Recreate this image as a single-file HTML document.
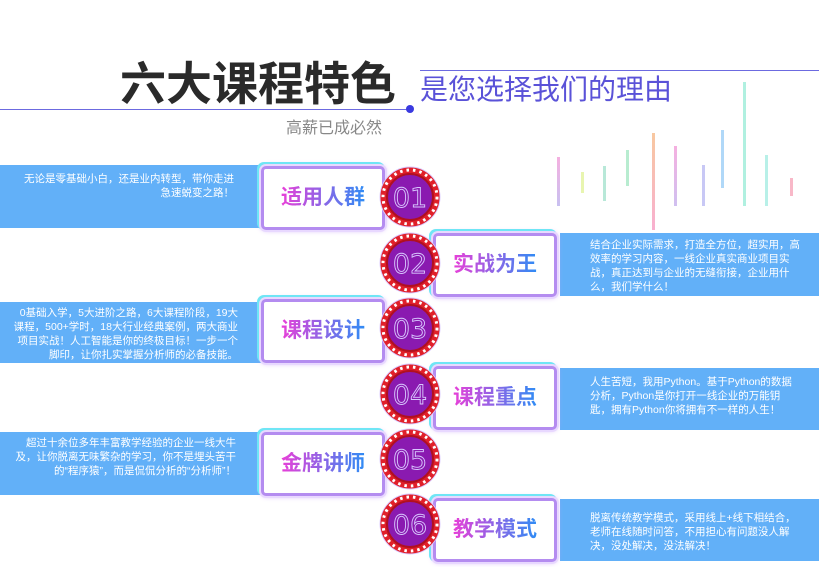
<!DOCTYPE html>
<html><head><meta charset="utf-8"><style>
body{margin:0;width:819px;height:567px;background:#fff;position:relative;overflow:hidden;font-family:"Liberation Sans","Noto Sans CJK SC",sans-serif}
.bar{position:absolute;background:#62b0f8;color:#fff;font-size:10.5px;line-height:14px}
.bl{left:0;width:262px;text-align:right}
.br{left:560px;width:259px;text-align:left}
.box{position:absolute;width:118px;height:58px;background:#fff;border:3px solid #b48cf0;border-radius:5px;box-shadow:0 0 0 2px #e8d8ff,-2px -2px 0 2px #6fe6f5,0 0 6px #c89cf5;font-size:21px;font-weight:bold;text-align:center;line-height:58px}
.box span{background:linear-gradient(90deg,#e83fd8,#2f8cf5);-webkit-background-clip:text;background-clip:text;color:transparent}
.dl{position:absolute;width:3px}
</style></head><body>
<div style="position:absolute;left:120px;top:48px;font-size:46px;font-weight:bold;color:#2a2a2a">六大课程特色</div>
<div style="position:absolute;left:420px;top:68px;font-size:28px;color:#5a52d8">是您选择我们的理由</div>
<div style="position:absolute;left:420px;top:70px;width:399px;height:1px;background:#6c6ae0"></div>
<div style="position:absolute;left:0;top:109px;width:410px;height:1px;background:#6c6ae0"></div>
<div style="position:absolute;left:406px;top:105px;width:8px;height:8px;border-radius:50%;background:#3a3ae0"></div>
<div style="position:absolute;left:286px;top:114px;font-size:16px;color:#888">高薪已成必然</div>

<div class="dl" style="left:557px;top:157px;height:49px;background:linear-gradient(#f5b0e0,#c8c0f0)"></div>
<div class="dl" style="left:581px;top:172px;height:21px;background:#e8f5b0"></div>
<div class="dl" style="left:603px;top:166px;height:35px;background:#b8e8d8"></div>
<div class="dl" style="left:626px;top:150px;height:36px;background:#b8ecd0"></div>
<div class="dl" style="left:652px;top:133px;height:97px;background:linear-gradient(#f8c8a0,#f8b0d0)"></div>
<div class="dl" style="left:674px;top:146px;height:60px;background:linear-gradient(#f5b0e0,#d0c0f0)"></div>
<div class="dl" style="left:702px;top:165px;height:41px;background:#c8c8f5"></div>
<div class="dl" style="left:721px;top:130px;height:58px;background:#b0d8f8"></div>
<div class="dl" style="left:743px;top:82px;height:124px;background:#b0f0e0"></div>
<div class="dl" style="left:765px;top:155px;height:51px;background:#b8f0e8"></div>
<div class="dl" style="left:790px;top:178px;height:18px;background:#f8b8c8"></div>

<div class="bar bl" style="top:165px;height:63px"><div style="padding:7px 28px 0 20px">无论是零基础小白，还是业内转型，带你走进<br>急速蜕变之路！</div></div>
<div class="bar br" style="top:233px;height:63px"><div style="padding:5px 19px 0 30px">结合企业实际需求，打造全方位，超实用，高效率的学习内容，一线企业真实商业项目实战，真正达到与企业的无缝衔接，企业用什么，我们学什么！</div></div>
<div class="bar bl" style="top:302px;height:61px"><div style="padding:4px 24px 0 10px">0基础入学，5大进阶之路，6大课程阶段，19大课程，500+学时，18大行业经典案例，两大商业项目实战！人工智能是你的终极目标！一步一个脚印，让你扎实掌握分析师的必备技能。</div></div>
<div class="bar br" style="top:368px;height:62px"><div style="padding:7px 19px 0 30px">人生苦短，我用Python。基于Python的数据分析，Python是你打开一线企业的万能钥匙，拥有Python你将拥有不一样的人生！</div></div>
<div class="bar bl" style="top:432px;height:63px"><div style="padding:4px 26px 0 12px">超过十余位多年丰富教学经验的企业一线大牛及，让你脱离无味繁杂的学习，你不是埋头苦干的“程序猿”，而是侃侃分析的“分析师”！</div></div>
<div class="bar br" style="top:499px;height:62px"><div style="padding:12px 19px 0 30px">脱离传统教学模式，采用线上+线下相结合，老师在线随时问答，不用担心有问题没人解决，没处解决，没法解决！</div></div>

<div class="box" style="left:261px;top:166px"><span>适用人群</span></div>
<div class="box" style="left:433px;top:233px"><span>实战为王</span></div>
<div class="box" style="left:261px;top:299px"><span>课程设计</span></div>
<div class="box" style="left:433px;top:366px"><span>课程重点</span></div>
<div class="box" style="left:261px;top:432px"><span>金牌讲师</span></div>
<div class="box" style="left:433px;top:498px"><span>教学模式</span></div>

<svg width="819" height="567" style="position:absolute;left:0;top:0">
<defs><g id="c">
<circle r="30" fill="#e0202a"/>
<circle r="27" fill="none" stroke="#fff" stroke-width="3" stroke-dasharray="2.5 4"/>
<circle r="23" fill="#8a1ab0" stroke="#b01020" stroke-width="2"/>
</g></defs>
<g font-family="DejaVu Sans, sans-serif" font-size="27" fill="none" stroke="#d8c8ff" stroke-width="0.9" text-anchor="middle">
<use href="#c" x="410" y="197"/><text x="410" y="207">01</text>
<use href="#c" x="410" y="263"/><text x="410" y="273">02</text>
<use href="#c" x="410" y="328"/><text x="410" y="338">03</text>
<use href="#c" x="410" y="394"/><text x="410" y="404">04</text>
<use href="#c" x="410" y="459"/><text x="410" y="469">05</text>
<use href="#c" x="410" y="524"/><text x="410" y="534">06</text>
</g></svg>
</body></html>
